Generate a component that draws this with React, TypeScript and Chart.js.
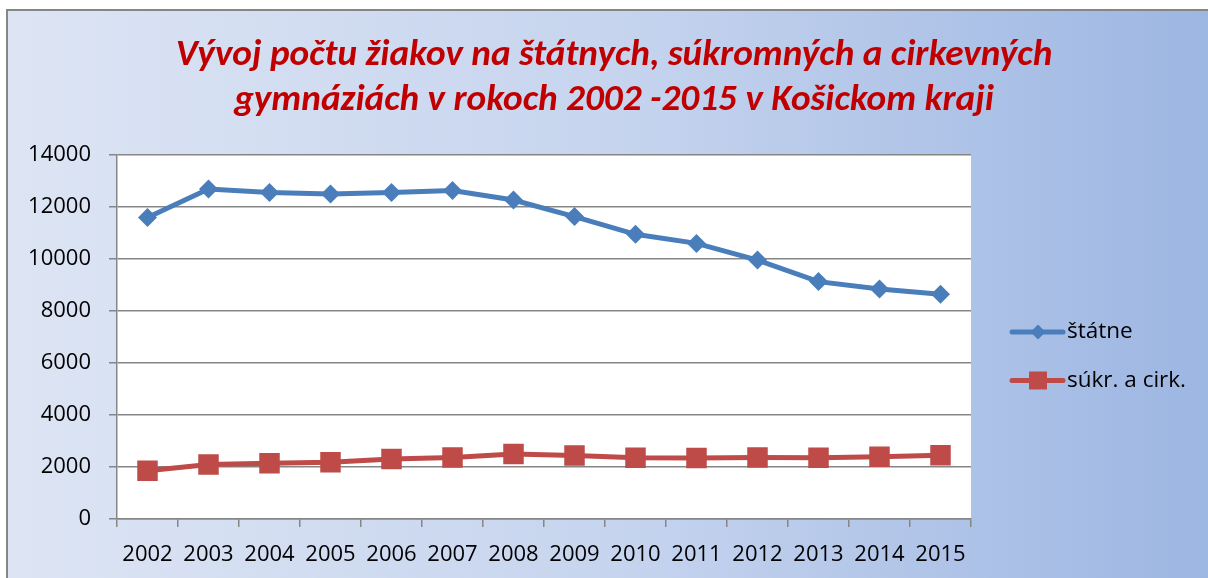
import { useEffect, useRef } from 'react';
import { Chart, registerables } from 'chart.js';

Chart.register(...registerables);

const years = ['2002', '2003', '2004', '2005', '2006', '2007', '2008', '2009', '2010', '2011', '2012', '2013', '2014', '2015'];
const statne = [11600, 12690, 12560, 12500, 12560, 12630, 12270, 11630, 10950, 10600, 9960, 9130, 8850, 8640];
const sukrCirk = [1860, 2100, 2140, 2180, 2310, 2370, 2500, 2440, 2360, 2350, 2370, 2360, 2390, 2450];
const seriesNames = ['štátne', 'súkr. a cirk.'];
const yMin = 0;
const yMax = 14000;
const yStep = 2000;
const titleLines = [
  'Vývoj počtu žiakov na štátnych, súkromných a cirkevných',
  'gymnáziách v rokoch 2002 -2015 v Košickom kraji',
];

const TITLE_FONT = 'Carlito, Lato, "Open Sans", sans-serif';
const FONT = '"Open Sans", Lato, sans-serif';
const GRID = '#868686';

export default function App() {
  const ref = useRef<HTMLCanvasElement | null>(null);

  useEffect(() => {
    document.body.style.margin = '0';
    const canvas = ref.current!;
    const plotBg = {
      id: 'plotBg',
      beforeDraw(chart: any) {
        const { ctx, chartArea: a } = chart;
        ctx.save();
        ctx.fillStyle = '#ffffff';
        ctx.fillRect(a.left, a.top, a.right - a.left, a.bottom - a.top);
        ctx.restore();
      },
    };
    const titlePlugin = {
      id: 'customTitle',
      afterDraw(chart: any) {
        const { ctx } = chart;
        ctx.save();
        let size = 34;
        ctx.font = `italic bold ${size}px ${TITLE_FONT}`;
        const w = ctx.measureText(titleLines[0]).width;
        size = size * 877 / w;
        ctx.font = `italic bold ${size}px ${TITLE_FONT}`;
        ctx.fillStyle = '#C00000';
        ctx.textAlign = 'center';
        ctx.textBaseline = 'alphabetic';
        titleLines.forEach((t, i) => ctx.fillText(t, 614, 65 + i * 45));
        ctx.restore();
      },
    };
    const legendPlugin = {
      id: 'customLegend',
      afterDraw(chart: any) {
        const { ctx } = chart;
        ctx.save();
        chart.data.datasets.forEach((ds: any, i: number) => {
          const y = 332 + i * 48.5;
          ctx.strokeStyle = ds.borderColor;
          ctx.lineWidth = 5;
          ctx.lineCap = 'round';
          ctx.beginPath();
          ctx.moveTo(1012, y);
          ctx.lineTo(1063, y);
          ctx.stroke();
          ctx.fillStyle = ds.backgroundColor;
          ctx.beginPath();
          if (ds.pointStyle === 'rectRot') {
            const r = 7.5;
            ctx.moveTo(1038, y - r);
            ctx.lineTo(1038 + r, y);
            ctx.lineTo(1038, y + r);
            ctx.lineTo(1038 - r, y);
            ctx.closePath();
          } else {
            ctx.rect(1038 - 9, y - 9, 18, 18);
          }
          ctx.fill();
          ctx.fillStyle = '#000';
          ctx.font = `22.5px ${FONT}`;
          ctx.textAlign = 'left';
          ctx.textBaseline = 'middle';
          ctx.fillText(ds.label, 1067, y);
        });
        ctx.restore();
      },
    };

    const chart = new Chart(canvas, {
      type: 'line',
      data: {
        labels: years,
        datasets: [
          {
            label: seriesNames[0],
            data: statne,
            borderColor: '#4A7EBB',
            backgroundColor: '#4A7EBB',
            borderWidth: 5,
            pointStyle: 'rectRot',
            pointRadius: 9.5,
            pointBorderWidth: 0,
            pointBackgroundColor: '#4A7EBB',
            tension: 0,
          },
          {
            label: seriesNames[1],
            data: sukrCirk,
            borderColor: '#BE4B48',
            backgroundColor: '#BE4B48',
            borderWidth: 5,
            pointStyle: 'rect',
            pointRadius: 14.5,
            pointBorderWidth: 0,
            pointBackgroundColor: '#BE4B48',
            tension: 0,
          },
        ],
      },
      options: {
        animation: false,
        responsive: false,
        devicePixelRatio: 1,
        layout: { padding: { top: 155, right: 237, left: 0, bottom: 0 } },
        plugins: { legend: { display: false }, title: { display: false }, tooltip: { enabled: false } },
        scales: {
          x: {
            type: 'category',
            offset: true,
            grid: { offset: true, drawOnChartArea: false, drawTicks: true, tickLength: 8, color: GRID, lineWidth: 1.5 },
            border: { display: true, color: GRID, width: 1.5 },
            ticks: { color: '#000', font: { family: FONT, size: 22 }, padding: 15, autoSkip: false, maxRotation: 0 },
            afterFit: (s: any) => { s.height = 578 - 519; },
          },
          y: {
            min: yMin,
            max: yMax,
            grid: { color: GRID, lineWidth: 1.5, tickLength: 8 },
            border: { display: true, color: GRID, width: 1.5 },
            ticks: {
              stepSize: yStep,
              color: '#000',
              font: { family: FONT, size: 22 },
              padding: 18,
              callback: (v: any) => String(v),
            },
            afterFit: (s: any) => { s.width = 117; },
          },
        },
      },
      plugins: [plotBg, titlePlugin, legendPlugin],
    });
    return () => chart.destroy();
  }, []);

  return (
    <div style={{ position: 'fixed', left: 0, top: 0, width: 1208, height: 578, overflow: 'hidden', background: '#fff' }}>
      <div
        style={{
          position: 'absolute', left: 6, top: 9, width: 1230, height: 620, boxSizing: 'border-box',
          border: '2px solid #868686',
          background: 'linear-gradient(to right, #DDE5F4 0%, #C6D4EE 50%, #9BB5E2 100%)',
        }}
      />
      <canvas ref={ref} width={1208} height={578} style={{ position: 'absolute', left: 0, top: 0, display: 'block' }} />
    </div>
  );
}
